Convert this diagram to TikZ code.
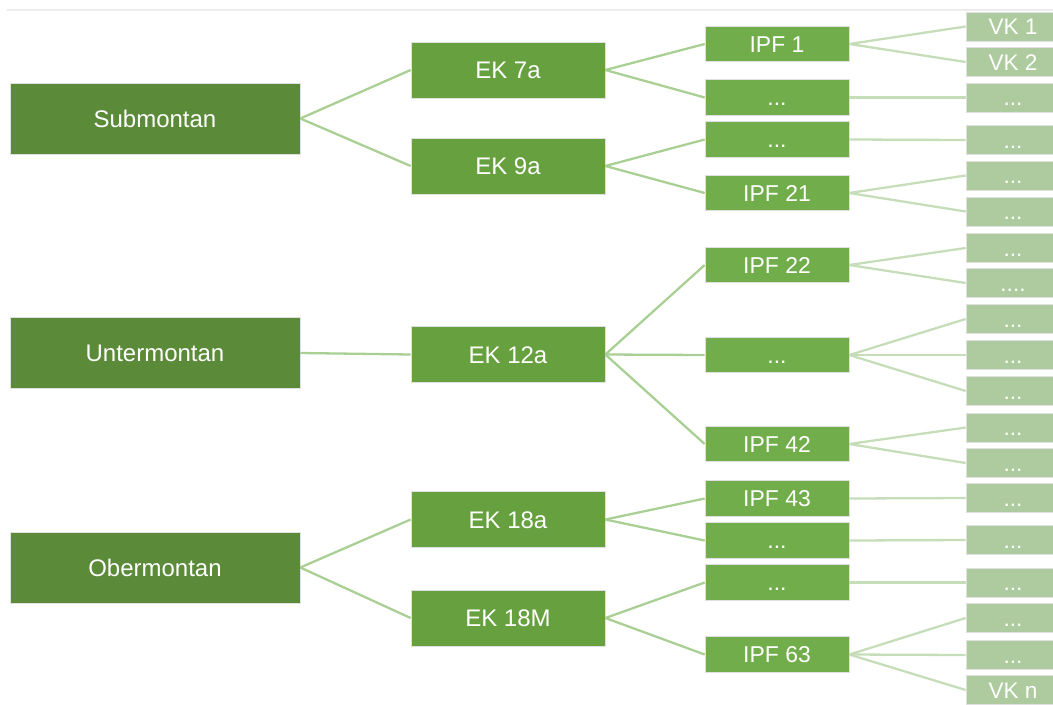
\documentclass[tikz,border=0pt]{standalone}
\usepackage{fontspec}
\setmainfont{Liberation Sans}
\usepackage{tikz}
\usetikzlibrary{positioning}

\definecolor{stufe0}{HTML}{5B8A38}
\definecolor{stufe1}{HTML}{67A03F}
\definecolor{stufe2}{HTML}{72AD4B}
\definecolor{stufe3}{HTML}{ADCB9E}
\definecolor{linie}{HTML}{A9CF94}
\definecolor{linieb}{HTML}{C6DDBA}

\begin{document}
\begin{tikzpicture}[x=0.567pt, y=-0.567pt,
		box/.style={rectangle, text=white, inner sep=0pt, text depth=0pt, draw=white!88!black, line width=0.4pt},
		hoehe/.style={box, fill=stufe0, minimum width=164.4pt, minimum height=40.3pt, text height=9.8pt, font=\fontsize{13.6}{16}\selectfont},
		ek/.style={box, fill=stufe1, minimum width=110pt, minimum height=31.8pt, text height=9.8pt, font=\fontsize{13.6}{16}\selectfont},
		ipf/.style={box, fill=stufe2, minimum width=81.6pt, minimum height=20.1pt, text height=9.4pt, font=\fontsize{13}{15}\selectfont},
		vk/.style={box, fill=stufe3, minimum width=53.3pt, minimum height=16.5pt, text height=9.2pt, font=\fontsize{12.8}{15}\selectfont},
		kante/.style={draw=linie, line width=1.3pt},
		kanteb/.style={draw=linieb, line width=1.3pt}]
		\useasboundingbox (0,0) rectangle (1053,704);
		\draw[gray!15, line width=0.6pt] (7,10) -- (1053,10);

		% Hoehenstufen
		\node(sub)[hoehe] at (155,118.5){Submontan};
		\node(unter)[hoehe] at (155,353){Untermontan};
		\node(ober)[hoehe] at (155,567.5){Obermontan};

		% EK
		\node(ek7a)[ek] at (508,70){EK 7a};
		\node(ek9a)[ek] at (508,166){EK 9a};
		\node(ek12a)[ek] at (508,354.5){EK 12a};
		\node(ek18a)[ek] at (508,519.5){EK 18a};
		\node(ek18M)[ek] at (508,618){EK 18M};

		% IPF
		\node(ipf1)[ipf] at (777,44){IPF 1};
		\node(ipfa)[ipf] at (777,97.5){...};
		\node(ipfb)[ipf] at (777,139.5){...};
		\node(ipf21)[ipf] at (777,193){IPF 21};
		\node(ipf22)[ipf] at (777,265){IPF 22};
		\node(ipfc)[ipf] at (777,355){...};
		\node(ipf42)[ipf] at (777,444){IPF 42};
		\node(ipf43)[ipf] at (777,498.5){IPF 43};
		\node(ipfd)[ipf] at (777,540.5){...};
		\node(ipfe)[ipf] at (777,582.5){...};
		\node(ipf63)[ipf] at (777,654.5){IPF 63};

		% VK
		\node(vk1)[vk] at (1013,26.5){VK 1};
		\node(vk2)[vk] at (1013,62){VK 2};
		\node(vk3)[vk] at (1013,97.5){...};
		\node(vk4)[vk] at (1013,140){...};
		\node(vk5)[vk] at (1013,175.5){...};
		\node(vk6)[vk] at (1013,211.5){...};
		\node(vk7)[vk] at (1013,248){...};
		\node(vk8)[vk] at (1013,283){....};
		\node(vk9)[vk] at (1013,319){...};
		\node(vk10)[vk] at (1013,355){...};
		\node(vk11)[vk] at (1013,391){...};
		\node(vk12)[vk] at (1013,427.5){...};
		\node(vk13)[vk] at (1013,463){...};
		\node(vk14)[vk] at (1013,498){...};
		\node(vk15)[vk] at (1013,540){...};
		\node(vk16)[vk] at (1013,582.5){...};
		\node(vk17)[vk] at (1013,618){...};
		\node(vk18)[vk] at (1013,655){...};
		\node(vkn)[vk] at (1013,690){VK n};

		\draw[kante] (sub.east) -- (ek7a.west);
		\draw[kante] (sub.east) -- (ek9a.west);
		\draw[kante] (unter.east) -- (ek12a.west);
		\draw[kante] (ober.east) -- (ek18a.west);
		\draw[kante] (ober.east) -- (ek18M.west);

		\draw[kante] (ek7a.east) -- (ipf1.west);
		\draw[kante] (ek7a.east) -- (ipfa.west);
		\draw[kante] (ek9a.east) -- (ipfb.west);
		\draw[kante] (ek9a.east) -- (ipf21.west);
		\draw[kante] (ek12a.east) -- (ipf22.west);
		\draw[kante] (ek12a.east) -- (ipfc.west);
		\draw[kante] (ek12a.east) -- (ipf42.west);
		\draw[kante] (ek18a.east) -- (ipf43.west);
		\draw[kante] (ek18a.east) -- (ipfd.west);
		\draw[kante] (ek18M.east) -- (ipfe.west);
		\draw[kante] (ek18M.east) -- (ipf63.west);

		\draw[kanteb] (ipf1.east) -- (vk1.west);
		\draw[kanteb] (ipf1.east) -- (vk2.west);
		\draw[kanteb] (ipfa.east) -- (vk3.west);
		\draw[kanteb] (ipfb.east) -- (vk4.west);
		\draw[kanteb] (ipf21.east) -- (vk5.west);
		\draw[kanteb] (ipf21.east) -- (vk6.west);
		\draw[kanteb] (ipf22.east) -- (vk7.west);
		\draw[kanteb] (ipf22.east) -- (vk8.west);
		\draw[kanteb] (ipfc.east) -- (vk9.west);
		\draw[kanteb] (ipfc.east) -- (vk10.west);
		\draw[kanteb] (ipfc.east) -- (vk11.west);
		\draw[kanteb] (ipf42.east) -- (vk12.west);
		\draw[kanteb] (ipf42.east) -- (vk13.west);
		\draw[kanteb] (ipf43.east) -- (vk14.west);
		\draw[kanteb] (ipfd.east) -- (vk15.west);
		\draw[kanteb] (ipfe.east) -- (vk16.west);
		\draw[kanteb] (ipf63.east) -- (vk17.west);
		\draw[kanteb] (ipf63.east) -- (vk18.west);
		\draw[kanteb] (ipf63.east) -- (vkn.west);
	\end{tikzpicture}
\end{document}
